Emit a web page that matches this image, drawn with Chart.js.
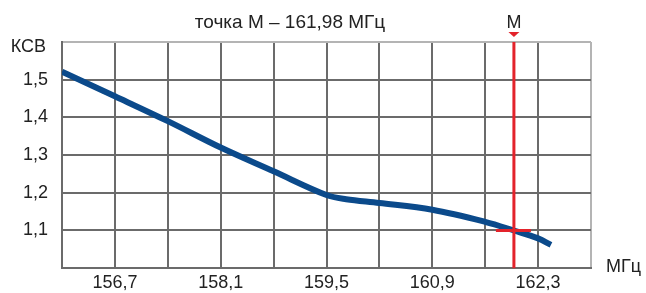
<!DOCTYPE html>
<html>
<head>
<meta charset="utf-8">
<script src="https://cdn.jsdelivr.net/npm/chart.js@4"></script>
<style>
  html, body { margin: 0; padding: 0; background: #fff; }
  #wrap { width: 646px; height: 293px; }
</style>
</head>
<body>
<div id="wrap"><canvas id="chart" width="646" height="293"></canvas></div>
<script>
// частоты (МГц) и КСВ
const freqs = [156.0, 156.7, 157.4, 158.1, 158.8, 159.5, 159.76, 160.2, 160.9, 161.6, 161.98, 162.3, 162.47];
const swr = [1.521, 1.456, 1.390, 1.320, 1.257, 1.194, 1.183, 1.173, 1.155, 1.123, 1.100, 1.079, 1.062];
const xTickLabels = ['156,7', '158,1', '159,5', '160,9', '162,3'];
const yTickLabels = ['', '1,1', '1,2', '1,3', '1,4', '1,5', ''];
const markerFreq = 161.98;
const markerSwr = 1.1;
const titleText = 'точка М – 161,98 МГц';

const textColor = '#222';
const fontFamily = '"Liberation Sans", Arial, sans-serif';

// подписи, маркер М
const extras = {
  id: 'extras',
  afterDatasetsDraw(chart) {
    const ctx = chart.ctx;
    const xs = chart.scales.x, ys = chart.scales.y;
    const area = chart.chartArea;
    const mx = xs.getPixelForValue(markerFreq);
    const my = ys.getPixelForValue(markerSwr);
    ctx.save();
    ctx.strokeStyle = '#e3232b';
    ctx.lineWidth = 3;
    ctx.beginPath();
    ctx.moveTo(mx, area.top);
    ctx.lineTo(mx, area.bottom);
    ctx.moveTo(mx - 18, my);
    ctx.lineTo(mx + 17, my);
    ctx.stroke();
    ctx.fillStyle = '#e3232b';
    ctx.beginPath();
    ctx.moveTo(mx - 5.5, area.top - 10);
    ctx.lineTo(mx + 5.5, area.top - 10);
    ctx.lineTo(mx, area.top - 5);
    ctx.closePath();
    ctx.fill();

    ctx.fillStyle = textColor;
    ctx.font = '18px ' + fontFamily;
    ctx.textBaseline = 'middle';
    ctx.textAlign = 'center';
    ctx.fillText('М', mx, 23);
    ctx.font = '19px ' + fontFamily;
    ctx.fillText(titleText, 290, 23);
    ctx.font = '18px ' + fontFamily;
    ctx.textAlign = 'right';
    ctx.fillText('КСВ', 46, area.top + 5);
    ctx.textAlign = 'left';
    ctx.fillText('МГц', 606, 267);
    ctx.restore();
  }
};

new Chart(document.getElementById('chart'), {
  type: 'line',
  data: {
    datasets: [{
      data: freqs.map((f, i) => ({ x: f, y: swr[i] })),
      borderColor: '#0b4a8b',
      borderWidth: 6,
      pointRadius: 0,
      tension: 0.35,
      fill: false
    }]
  },
  options: {
    responsive: false,
    animation: false,
    layout: { padding: { top: 42, right: 55, left: 0, bottom: 0 } },
    plugins: { legend: { display: false }, tooltip: { enabled: false } },
    scales: {
      x: {
        type: 'linear',
        min: 156,
        max: 163,
        afterFit(scale) { scale.height = 22; },
        ticks: {
          stepSize: 0.7,
          autoSkip: false,
          maxRotation: 0,
          padding: 4,
          color: textColor,
          font: { family: fontFamily, size: 18 },
          callback: (v, i) => (i % 2 === 1 ? xTickLabels[(i - 1) / 2] : '')
        },
        grid: {
          drawTicks: false,
          lineWidth: 2,
          color: ctx => (ctx.index === 10 ? '#b4b4b4' : '#6b6b6b')
        },
        border: { color: '#6b6b6b', width: 2 }
      },
      y: {
        min: 1.0,
        max: 1.6,
        afterFit(scale) { scale.width = 62; },
        ticks: {
          stepSize: 0.1,
          padding: 14,
          color: textColor,
          font: { family: fontFamily, size: 18 },
          callback: (v, i) => yTickLabels[i]
        },
        grid: {
          drawTicks: false,
          lineWidth: 2,
          color: ctx => (ctx.index === 6 ? '#b4b4b4' : '#6b6b6b')
        },
        border: { color: '#6b6b6b', width: 2 }
      }
    }
  },
  plugins: [extras]
});
</script>
</body>
</html>
